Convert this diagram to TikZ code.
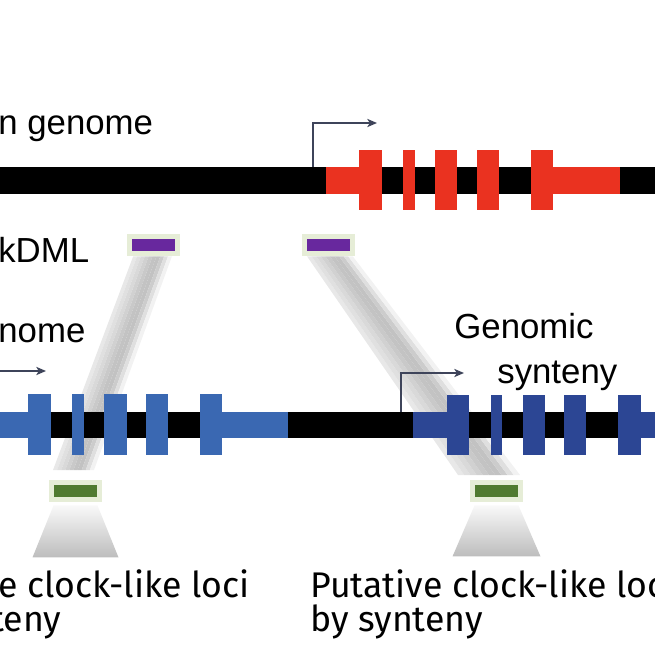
\documentclass[tikz,border=0pt]{standalone}
\usepackage{fontspec}
\setmainfont{Liberation Sans}
\newfontfamily\firafont{Fira Sans}
\usetikzlibrary{calc, arrows.meta}

\definecolor{genered}{RGB}{234,50,32}
\definecolor{geneblue}{RGB}{58,104,178}
\definecolor{genenavy}{RGB}{44,70,148}
\definecolor{tssgray}{RGB}{62,68,90}
\definecolor{dmlpurple}{RGB}{104,40,158}
\definecolor{locgreen}{RGB}{80,122,48}
\definecolor{paleedge}{RGB}{230,237,215}

\begin{document}
\begin{tikzpicture}[>={Stealth[length=5.5pt, width=4.6pt, inset=1.4pt]}, x=0.02cm, y=-0.02cm,
    lbl/.style={inner sep=0, anchor=base west, font=\fontsize{19.8}{23}\selectfont},
    loclbl/.style={inner sep=0, anchor=base west, font=\firafont\fontsize{20.3}{24}\selectfont},
    tagbox/.style={draw=paleedge, line width=2.83pt, minimum width=27.2pt, minimum height=10.2pt, inner sep=0},
    cone/.style={top color=gray!5, bottom color=gray!52},
    tss/.style={->, draw=tssgray, line width=1.1pt}]
    \useasboundingbox (0,0) rectangle (655,655);
    \clip (0,0) rectangle (655,655);
    % kDML tags and loci found by synteny
    \node[tagbox, fill=dmlpurple] (dmlA) at (153.5,245) {};
    \node[tagbox, fill=dmlpurple] (dmlB) at (328.5,245) {};
    \node[tagbox, fill=locgreen] (locA) at (75.5,491) {};
    \node[tagbox, fill=locgreen] (locB) at (496.5,491) {};
    % projection bands
    \coordinate (bandAtl) at ($(dmlA.south west)+(6,0)$);
    \coordinate (bandAtr) at ($(dmlA.south east)+(-8,0)$);
    \coordinate (bandAbl) at (53,470);
    \coordinate (bandAbr) at (94,470);
    \coordinate (bandBtl) at ($(dmlB.south west)+(5,0)$);
    \coordinate (bandBtr) at ($(dmlB.south east)+(-2,0)$);
    \coordinate (bandBbl) at (458,475);
    \coordinate (bandBbr) at (520,475);
    \foreach \a/\b/\c in {0/.1/18, .1/.2/24, .2/.3/30, .3/.4/36, .4/.5/42, .5/.6/47, .6/.7/48, .7/.8/40, .8/.9/25, .9/1/10}{
        \fill[gray!\c] ($(bandAtl)!\a!(bandAtr)$) -- ($(bandAtl)!\b!(bandAtr)$) -- ($(bandAbl)!\b!(bandAbr)$) -- ($(bandAbl)!\a!(bandAbr)$) -- cycle;
        \fill[gray!\c] ($(bandBtl)!\a!(bandBtr)$) -- ($(bandBtl)!\b!(bandBtr)$) -- ($(bandBbl)!\b!(bandBbr)$) -- ($(bandBbl)!\a!(bandBbr)$) -- cycle;
    }
    \shade[cone] ($(locA.south)+(-22,3)$) -- ($(locA.south)+(22,3)$) -- ($(locA.south)+(43,55)$) -- ($(locA.south)+(-43,55)$) -- cycle;
    \shade[cone] ($(locB.south)+(-22,3)$) -- ($(locB.south)+(22,3)$) -- ($(locB.south)+(44,54)$) -- ($(locB.south)+(-44,54)$) -- cycle;
    % chromosomes
    \fill (0,167) rectangle (655,194);
    \fill (0,412) rectangle (655,438);
    % red gene
    \fill[genered] (326,167) rectangle (359,194);
    \foreach \l/\r in {359/382, 403/415, 435/457, 477/499, 531/553}
        \fill[genered] (\l,150) rectangle (\r,210);
    \fill[genered] (553,167) rectangle (620,194);
    % blue genes
    \fill[geneblue] (0,412) rectangle (28,438);
    \foreach \l/\r in {28/51, 72/84, 104/127, 146/168, 200/222}
        \fill[geneblue] (\l,394) rectangle (\r,455);
    \fill[geneblue] (222,412) rectangle (288,438);
    \fill[genenavy] (413,412) rectangle (447,438);
    \foreach \l/\r in {447/469, 491/502, 523/545, 564/586, 618/641}
        \fill[genenavy] (\l,395) rectangle (\r,455);
    \fill[genenavy] (641,412) rectangle (655,438);
    % TSS arrows
    \coordinate (tssRed) at (313,167);
    \coordinate (tssBlue) at (-5,371);
    \coordinate (tssNavy) at (401,412);
    \draw[tss] (tssRed) |- (377,123);
    \draw[tss] (tssBlue) -- (46,371);
    \draw[tss] (tssNavy) |- (464,373);
    % labels
    \node[lbl] (topgenome) at (-2,135) {n genome};
    \node[lbl] (kdml) at (-2,262) {kDML};
    \node[lbl] (lowgenome) at (-2,342) {nome};
    \node[lbl] (genomic) at (454,338) {Genomic};
    \node[lbl] (synteny) at (497,383) {synteny};
    \node[loclbl] (clockA1) at (-2,597) {e clock-like loci};
    \node[loclbl] (clockA2) at (-9,631) {teny};
    \node[loclbl] (clockB1) at (310,597) {Putative clock-like loci};
    \node[loclbl] (clockB2) at (310,631) {by synteny};
\end{tikzpicture}
\end{document}
